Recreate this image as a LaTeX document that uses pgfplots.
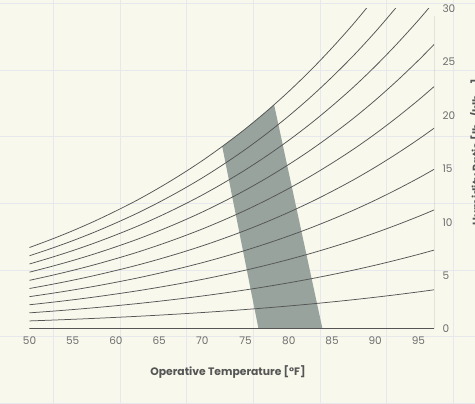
\documentclass[border=0pt]{standalone}
\usepackage{pgfplots}
\usepackage{pgfplotstable}
\pgfplotsset{compat=1.18}
\usepackage{fontspec}
\setmainfont{Poppins}
\definecolor{bg}{HTML}{F8F8EC}
\definecolor{gridc}{HTML}{E6E8EC}
\definecolor{zone}{HTML}{97A39C}
\definecolor{ink}{HTML}{555555}
\definecolor{tickc}{HTML}{6E6E6E}

\pgfplotstableread{
T w1 w2 w3 w4 w5 w6 w7 w8 w9 w10
50 0.7547 1.5113 2.2697 3.0299 3.792 4.556 5.322 6.089 6.859 7.630
52.5 0.8285 1.6593 2.4923 3.3275 4.1649 5.0046 5.8465 6.6907 7.5372 8.3859
55 0.9079 1.8185 2.7318 3.6477 4.5664 5.4877 6.4117 7.3385 8.2680 9.2002
57.5 0.9941 1.9915 2.9920 3.9958 5.0027 6.0129 7.0264 8.0432 9.0632 10.0866
60 1.0878 2.1794 3.2748 4.3740 5.4772 6.5842 7.6951 8.8100 9.9288 11.0517
62.5 1.1876 2.3797 3.5764 4.7777 5.9836 7.1941 8.4094 9.6293 10.8540 12.0834
65 1.2972 2.5999 3.9080 5.2216 6.5407 7.8653 9.1956 10.5315 11.8731 13.2204
67.5 1.4150 2.8364 4.2643 5.6988 7.1398 8.5875 10.0419 11.5030 12.9708 14.4455
70 1.5415 3.0906 4.6474 6.2120 7.7844 9.3648 10.9530 12.5493 14.1537 15.7662
72.5 1.6790 3.3671 5.0643 6.7708 8.4866 10.2118 11.9464 13.6906 15.4445 17.2080
75 1.8259 3.6626 5.5101 7.3685 9.2380 11.1186 13.0105 14.9137 16.8284 18.7546
77.5 1.9847 3.9820 5.9922 8.0154 10.0516 12.1010 14.1638 16.2401 18.3299 20.4335
80 2.1552 4.3254 6.5108 8.7114 10.9275 13.1593 15.4068 17.6703 19.9500 22.2459
82.5 2.3382 4.6940 7.0677 9.4595 11.8695 14.2980 16.7451 19.2111 21.6963 24.2008
85 2.5355 5.0918 7.6691 10.2677 12.8878 15.5297 18.1937 20.8801 23.5891 26.3210
87.5 2.7454 5.5151 8.3095 11.1290 13.9737 16.8441 19.7406 22.6634 25.6130 28.5898
90 2.9721 5.9728 9.0024 12.0613 15.1501 18.2691 21.4189 24.5997 27.8122 31.0568
92.5 3.2151 6.4637 9.7462 13.0631 16.4151 19.8026 23.2263 26.6868 30.1845 33.7202
95 3.4732 6.9854 10.5373 14.1295 17.7628 21.4378 25.1553 28.9159 32.7209 36.5699
96.8 3.6707 7.3850 11.1436 14.9474 18.7972 22.6938 26.6381 30.6310 34.674 38.766
}\rh

\begin{document}
\begin{tikzpicture}[x=1pt,y=1pt]
\fill[bg] (0,0) rectangle (475,404);
\useasboundingbox (0,0) rectangle (475,404);
\foreach \i in {0,...,6} {\draw[gridc, line width=0.8pt] ({53.33+66.67*\i},0) -- ({53.33+66.67*\i},404);}
\foreach \i in {0,...,6} {\draw[gridc, line width=0.8pt] (0,{400.7-66.67*\i}) -- (475,{400.7-66.67*\i});}
\begin{axis}[
  at={(29.5pt,75pt)}, anchor=south west,
  scale only axis, width=404.5pt, height=320.4pt,
  xmin=50, xmax=96.8, ymin=0, ymax=30,
  axis x line*=bottom, axis y line*=right,
  axis line style={draw=none},
  major tick length=0pt,
  xtick={50,55,...,95}, ytick={0,5,...,30},
  /pgf/number format/assume math mode=true,
  tick label style={font=\fontsize{10.5}{12}\selectfont, text=tickc},
  xticklabel style={yshift=-4pt},
  yticklabel style={xshift=5pt},
]
\addplot[fill=zone, draw=none] coordinates {(76.5,0) (83.9,0) (78.3,21.0) (77.5,20.43) (75,18.75) (72.5,17.21) (72.3,17.09)} -- cycle;
\pgfplotsinvokeforeach{1,...,10}{
  \addplot[ink, line width=0.75pt, smooth, no marks] table[x=T, y=w#1]{\rh};
}
\draw[ink, line width=1pt] (axis cs:50,0) -- (axis cs:96.8,0) -- (axis cs:96.8,29.3);
\end{axis}
\node[font=\fontsize{10.8}{12}\selectfont\bfseries, text=ink] at (228,32) {Operative Temperature [°F]};
\node[rotate=90, anchor=north, inner sep=0pt, font=\fontsize{10.8}{12}\selectfont\bfseries, text=ink] at (470,252) {Humidity Ratio [lb\textsubscript{w}/klb\textsubscript{da}]};
\end{tikzpicture}
\end{document}
